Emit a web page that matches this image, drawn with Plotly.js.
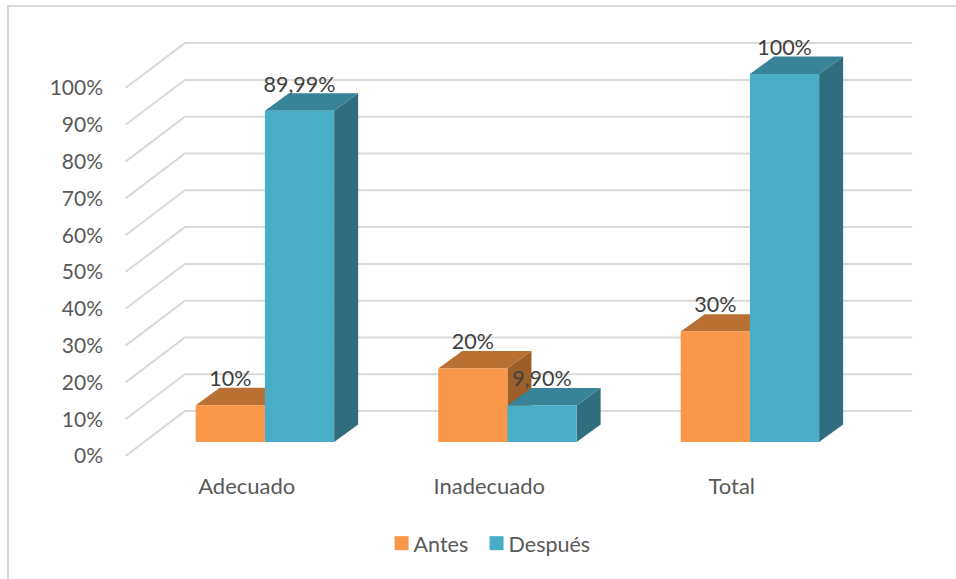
<!DOCTYPE html>
<html><head><meta charset="utf-8">
<script src="https://cdn.plot.ly/plotly-3.0.0.min.js"></script>
<style>
html,body{margin:0;padding:0;background:#fff;overflow:hidden}
#frame{position:absolute;left:7px;top:5px;width:949px;height:574px;border-left:2px solid #d9d9d9;border-top:2px solid #d9d9d9;box-sizing:border-box}
#chart{position:absolute;left:0;top:0;width:956px;height:579px}
</style></head><body>
<div id="frame"></div><div id="chart"></div>
<script>
// data
const categories = ['Adecuado','Inadecuado','Total'];
const positions = [0,1,2];
const antes = [10,20,30];
const despues = [89.99,9.90,100];
const antesLabels = ['10%','20%','30%'];
const despuesLabels = ['89,99%','9,90%','100%'];
const tickValues = [0,10,20,30,40,50,60,70,80,90,100];
const tickLabels = tickValues.map(v=>v+'%');

// oblique projection, in axis units
const wallDX = 0.245, wallDY = 12.2;     // front plane -> back wall
const gapDX = 0.075, gapDY = 3.8;        // front plane -> bar front
const depthDX = 0.099, depthDY = 4.75;   // bar front -> bar back
const barW = 0.2854;
const labelLift = 6.7;

function gridTrace(){
  const x=[],y=[];
  tickValues.forEach(v=>{
    x.push(-0.5,-0.5+wallDX,2.5+wallDX,null);
    y.push(v,v+wallDY,v+wallDY,null);
  });
  return {x,y,mode:'lines',line:{color:'#d9d9d9',width:2},hoverinfo:'skip',showlegend:false};
}
function left(i,dir){return positions[i]+gapDX+(dir<0?-barW:0);}
function topFace(vals,dir,color){
  const x=[],y=[];
  vals.forEach((v,i)=>{
    const a=left(i,dir),b=a+barW,t=v+gapDY;
    x.push(a,b,b+depthDX,a+depthDX,a,null);
    y.push(t,t,t+depthDY,t+depthDY,t,null);
  });
  return {x,y,mode:'none',fill:'toself',fillcolor:color,hoverinfo:'skip',showlegend:false};
}
function sideFace(vals,dir,color){
  const x=[],y=[];
  vals.forEach((v,i)=>{
    const b=left(i,dir)+barW,t=v+gapDY;
    x.push(b,b+depthDX,b+depthDX,b,b,null);
    y.push(gapDY,gapDY+depthDY,t+depthDY,t,gapDY,null);
  });
  return {x,y,mode:'none',fill:'toself',fillcolor:color,hoverinfo:'skip',showlegend:false};
}
function bar(name,vals,dir,color){
  return {type:'bar',name,x:positions.map((p,i)=>left(i,dir)+barW/2),y:vals,
    base:vals.map(()=>gapDY),width:barW,marker:{color,line:{width:0}},
    xaxis:'x2',yaxis:'y2',hoverinfo:'skip'};
}
function labels(vals,dir,text){
  return {x:positions.map((p,i)=>left(i,dir)+barW/2),y:vals.map(v=>v+gapDY+labelLift),text,
    mode:'text',textposition:'middle center',textfont:{family:'Lato',size:21.5,color:'#404040'},
    xaxis:'x2',yaxis:'y2',hoverinfo:'skip',showlegend:false,cliponaxis:false};
}
const C={o:'#fa9748',ot:'#b87133',os:'#9c5f2a',b:'#4aadc8',bt:'#38829a',bs:'#306d7e'};
const traces=[
  gridTrace(),
  sideFace(antes,-1,C.os),topFace(antes,-1,C.ot),
  sideFace(despues,1,C.bs),topFace(despues,1,C.bt),
  bar('Antes',antes,-1,C.o),bar('Después',despues,1,C.b),
  labels(antes,-1,antesLabels),labels(despues,1,despuesLabels)
];
const xr=[-0.5227,2.797], yr=[0,114.13];
const font={family:'Lato',size:21.5,color:'#595959'};
const layout={
  width:956,height:579,margin:{l:120,r:31,t:36,b:123,pad:0},
  paper_bgcolor:'rgba(0,0,0,0)',plot_bgcolor:'rgba(0,0,0,0)',barmode:'overlay',
  xaxis:{range:xr,tickmode:'array',tickvals:positions,ticktext:categories,showgrid:false,zeroline:false,showline:false,ticks:'',tickfont:{family:'Lato',size:22,color:'#595959'},ticklabelstandoff:15,fixedrange:true},
  yaxis:{range:yr,tickmode:'array',tickvals:tickValues,ticktext:tickLabels,showgrid:false,zeroline:false,showline:false,ticks:'',tickfont:{family:'Lato',size:21,color:'#595959'},ticklabelstandoff:16,fixedrange:true},
  xaxis2:{range:xr,overlaying:'x',visible:false,fixedrange:true},
  yaxis2:{range:yr,overlaying:'y',visible:false,fixedrange:true},
  legend:{orientation:'h',x:0.315,xanchor:'left',y:-0.2076,yanchor:'middle',font,entrywidth:50,entrywidthmode:'pixels',bgcolor:'rgba(0,0,0,0)',itemclick:false,itemdoubleclick:false,traceorder:'normal'},
  showlegend:true
};
Plotly.newPlot('chart',traces,layout,{displayModeBar:false,staticPlot:true}).then(gd=>{
  // tighten legend swatches toward their text, as in the reference
  gd.querySelectorAll('.legend .legendsymbols').forEach(g=>g.setAttribute('transform','translate(8,0)'));
  gd.querySelectorAll('.legend .legendsymbols path').forEach(p=>p.setAttribute('d','M7,7H-7V-7H7Z'));
  // fixed entry widths must not crop the entry text
  gd.querySelectorAll('.legend [clip-path]').forEach(n=>n.removeAttribute('clip-path'));
  gd.querySelectorAll('.legend .scrollbox').forEach(n=>{n.style.clipPath='none';n.removeAttribute('clip-path');});
});
</script>
</body></html>
